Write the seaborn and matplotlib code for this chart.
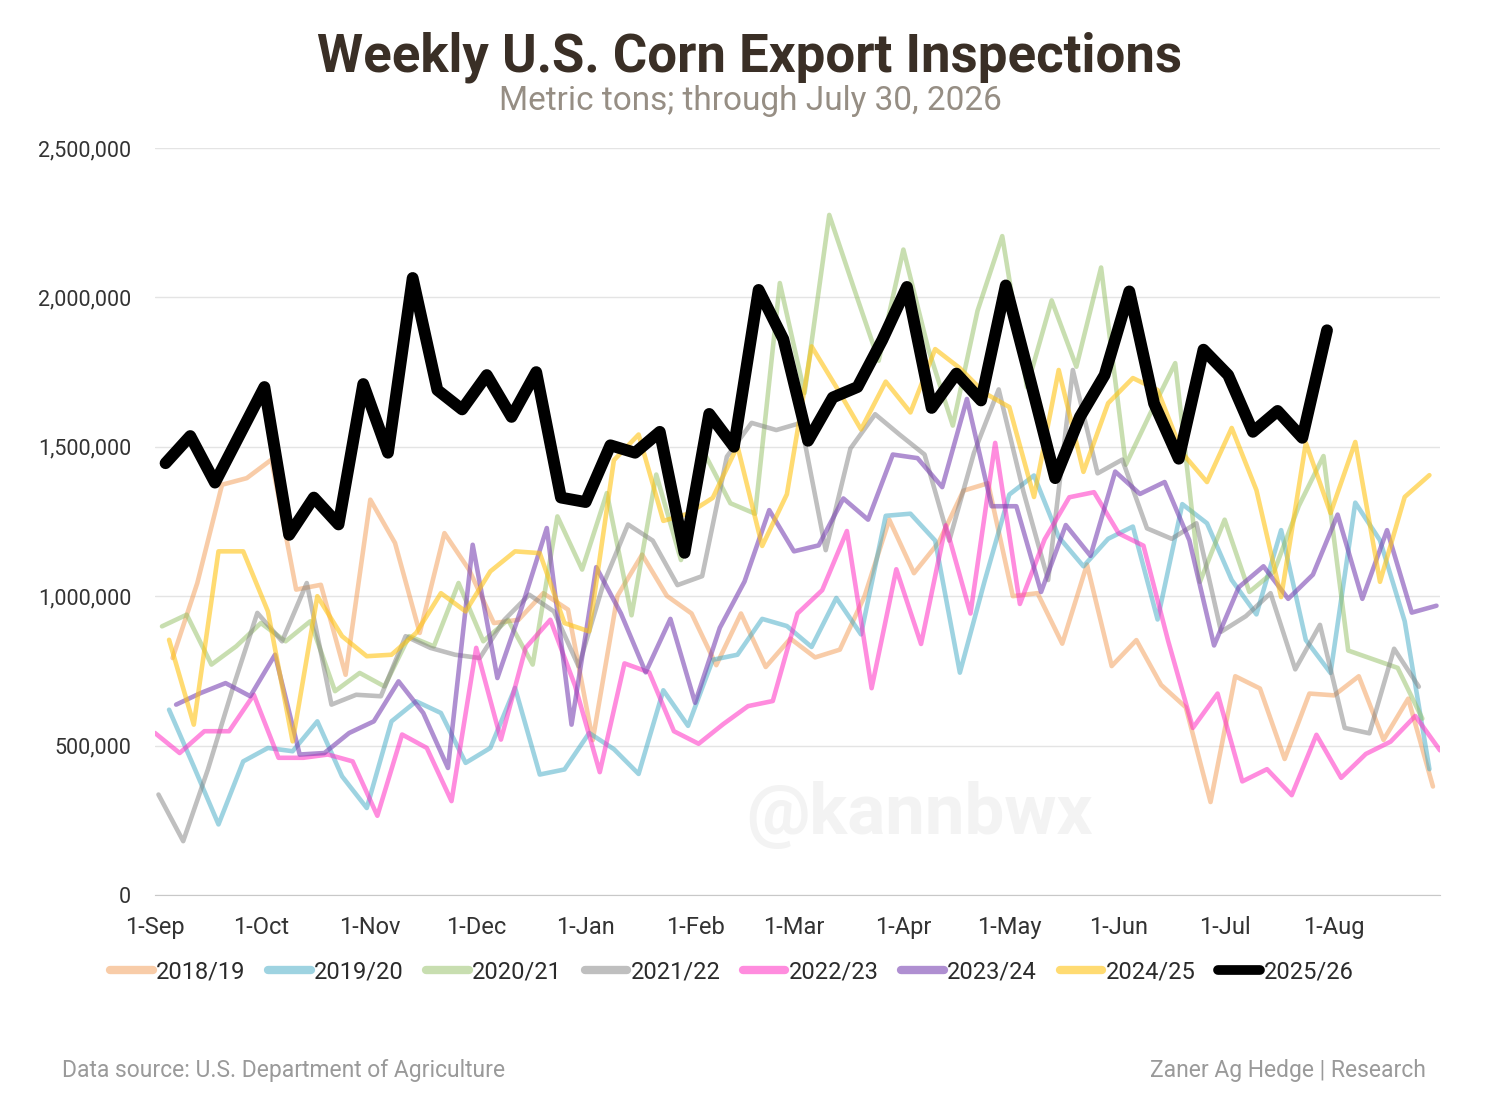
import pandas as pd
import seaborn as sns
import matplotlib.pyplot as plt
from matplotlib.lines import Line2D
from matplotlib.ticker import FuncFormatter

# Weekly inspections, thousand metric tons
seasons = ['2018/19', '2019/20', '2020/21', '2021/22', '2022/23', '2023/24', '2024/25', '2025/26']
first_week = ['2018-09-06', '2019-09-05', '2020-09-03', '2021-09-02',
              '2022-09-01', '2023-09-07', '2024-09-05', '2025-09-04']

s1819 = [793, 1044, 1373, 1395, 1457, 1022, 1038, 737, 1323, 1178, 877, 1211, 1088, 910,
         921, 1010, 955, 518, 1001, 1139, 1001, 942, 769, 942, 763, 858, 795, 821, 1000,
         1256, 1077, 1180, 1353, 1378, 1000, 1010, 841, 1106, 766, 853, 703, 628, 311,
         732, 691, 455, 674, 668, 732, 519, 657, 363]
s1920 = [620, 430, 236, 447, 492, 481, 581, 397, 291, 581, 648, 609, 442, 492, 693, 403,
         420, 542, 488, 405, 685, 566, 787, 804, 924, 900, 830, 994, 872, 1269, 1276,
         1186, 744, 1050, 1340, 1404, 1198, 1100, 1192, 1233, 922, 1308, 1244, 1054, 939,
         1221, 853, 743, 1313, 1187, 916, 421]
s2021 = [899, 938, 771, 832, 910, 849, 916, 682, 743, 698, 866, 832, 1044, 849, 921, 771,
         1267, 1089, 1345, 936, 1407, 1121, 1470, 1311, 1276, 2048, 1680, 2276, 2030,
         1788, 2160, 1830, 1571, 1955, 2205, 1700, 1990, 1768, 2100, 1440, 1613, 1780,
         1048, 1256, 1014, 1083, 1302, 1469, 818, 789, 760, 590]
s2122 = [336, 180, 420, 690, 944, 849, 1044, 637, 670, 665, 866, 827, 804, 793, 921, 1005,
         949, 765, 1040, 1240, 1186, 1037, 1067, 1467, 1580, 1556, 1580, 1154, 1494, 1609,
         1540, 1474, 1186, 1480, 1692, 1350, 1054, 1757, 1411, 1457, 1227, 1192, 1244,
         881, 933, 1010, 755, 904, 559, 541, 824, 697]
s2223 = [542, 475, 548, 548, 670, 459, 459, 470, 447, 265, 537, 492, 314, 827, 520, 827,
         921, 700, 411, 775, 745, 548, 506, 572, 632, 649, 942, 1020, 1218, 692, 1090,
         840, 1237, 942, 1513, 974, 1190, 1331, 1348, 1210, 1169, 850, 559, 674, 380,
         421, 334, 536, 392, 472, 513, 599, 484]
s2324 = [637, 676, 709, 665, 804, 470, 475, 542, 581, 715, 609, 425, 1172, 726, 966, 1228,
         570, 1097, 942, 745, 924, 643, 894, 1049, 1288, 1150, 1170, 1327, 1256, 1474,
         1462, 1365, 1660, 1301, 1301, 1014, 1238, 1135, 1417, 1342, 1382, 1187, 835,
         1030, 1100, 991, 1072, 1273, 991, 1221, 945, 968]
s2425 = [854, 570, 1150, 1150, 949, 514, 1000, 866, 799, 804, 877, 1010, 949, 1083, 1150,
         1144, 910, 882, 1455, 1541, 1252, 1276, 1329, 1502, 1168, 1341, 1836, 1700, 1558,
         1718, 1615, 1827, 1763, 1680, 1633, 1332, 1757, 1416, 1646, 1730, 1690, 1479,
         1382, 1563, 1355, 997, 1513, 1278, 1516, 1048, 1332, 1405]
s2526 = [1445, 1536, 1380, 1540, 1700, 1205, 1330, 1240, 1710, 1480, 2065, 1690, 1625,
         1740, 1600, 1750, 1330, 1315, 1505, 1480, 1550, 1145, 1610, 1500, 2025, 1860,
         1520, 1665, 1700, 1857, 2035, 1630, 1745, 1655, 2040, 1720, 1395, 1600, 1740,
         2020, 1645, 1460, 1825, 1740, 1550, 1620, 1530, 1890]
series = [s1819, s1920, s2021, s2122, s2223, s2324, s2425, s2526]

colors = ['#f39a52', '#3fa9c4', '#93bf62', '#808080', '#ff2ec4', '#7b45b3', '#ffc414', '#000000']
alphas = [0.5, 0.5, 0.5, 0.5, 0.55, 0.6, 0.6, 1.0]
widths = [3.3, 3.3, 3.3, 3.3, 3.3, 3.3, 3.3, 8.5]

month_labels = ['1-Sep', '1-Oct', '1-Nov', '1-Dec', '1-Jan', '1-Feb', '1-Mar', '1-Apr',
                '1-May', '1-Jun', '1-Jul', '1-Aug']

rows = []
for season, start, vals in zip(seasons, first_week, series):
    dates = pd.date_range(start, periods=len(vals), freq='7D')
    sep1 = pd.Timestamp(start[:4] + '-09-01')
    for d, v in zip(dates, vals):
        rows.append((season, (d - sep1).days, v * 1000))
df = pd.DataFrame(rows, columns=['season', 'day', 'tons'])

month_starts = pd.date_range('2025-09-01', periods=12, freq='MS')
month_days = [(m - month_starts[0]).days for m in month_starts]

sns.set_style('white')
plt.rcParams['font.family'] = ['Roboto', 'DejaVu Sans']

fig = plt.figure(figsize=(15, 11.17), dpi=100)
ax = fig.add_axes([0.1033, 0.1988, 0.8567, 0.6687])

for i, season in enumerate(seasons):
    sub = df[df['season'] == season]
    sns.lineplot(data=sub, x='day', y='tons', color=colors[i], alpha=alphas[i],
                 linewidth=widths[i], estimator=None, sort=False, ax=ax,
                 zorder=2 + i, legend=False,
                 solid_joinstyle='round', solid_capstyle='round')

ax.set_xlim(0, 364)
ax.set_ylim(0, 2500000)
ax.set_yticks([0, 500000, 1000000, 1500000, 2000000, 2500000])
ax.yaxis.set_major_formatter(FuncFormatter(lambda v, p: f'{int(v):,}'))
ax.set_xticks(month_days)
ax.set_xticklabels(month_labels)
ax.set_xlabel('')
ax.set_ylabel('')
ax.yaxis.grid(True, color='#e4e4e4', linewidth=1)
ax.set_axisbelow(True)
for side in ['top', 'right', 'left']:
    ax.spines[side].set_visible(False)
ax.spines['bottom'].set_color('#c8c8c8')
ax.tick_params(axis='x', length=6, color='#c8c8c8', labelsize=17, labelcolor='#333333', pad=9)
ax.tick_params(axis='y', length=0, labelsize=15.5, labelcolor='#333333', pad=17)

fig.text(0.613, 0.27, '@kannbwx', fontsize=51, fontweight='bold', color='#f3f3f3',
         ha='center', va='center', zorder=0)

fig.text(0.5, 1 - 57 / 1117, 'Weekly U.S. Corn Export Inspections', ha='center', va='center',
         fontsize=38, fontweight='bold', color='#3a2f26')
fig.text(0.5, 1 - 101 / 1117, 'Metric tons; through July 30, 2026', ha='center', va='center',
         fontsize=24, color='#968e84')

handles = [Line2D([0], [0], color=colors[i], alpha=alphas[i], linewidth=6 if i < 7 else 7,
                  solid_capstyle='round') for i in range(len(seasons))]
fig.legend(handles, seasons, loc='center', bbox_to_anchor=(0.488, 1 - 972 / 1117), ncol=8,
           frameon=False, fontsize=17, handlelength=1.8, handletextpad=0.15,
           columnspacing=0.95, labelcolor='#2b2b2b')

fig.text(62 / 1500, 1 - 1071 / 1117, 'Data source: U.S. Department of Agriculture',
         ha='left', va='center', fontsize=16.5, color='#9a9a9a')
fig.text(1426 / 1500, 1 - 1071 / 1117, 'Zaner Ag Hedge | Research',
         ha='right', va='center', fontsize=16.5, color='#9a9a9a')

fig.savefig('out.png', dpi=100, facecolor='white')
